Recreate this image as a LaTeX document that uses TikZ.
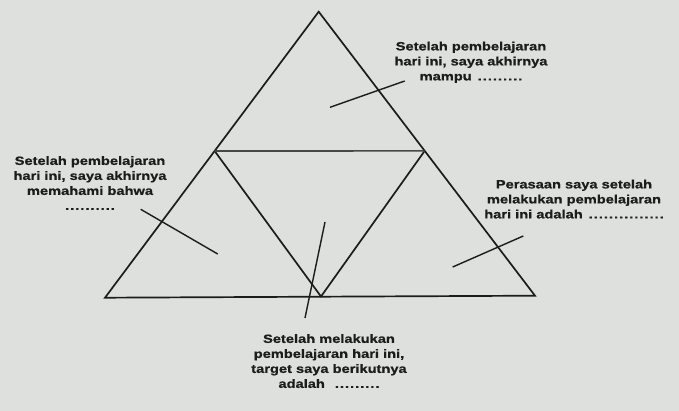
\documentclass[tikz,border=0pt]{standalone}
\usepackage{fontspec}
\setmainfont{Liberation Sans}[FakeStretch=1.22,BoldFeatures={FakeBold=0.8}]
\usetikzlibrary{calc}
\definecolor{bgc}{RGB}{221,224,221}
\definecolor{ink}{RGB}{28,28,28}
\definecolor{midc}{RGB}{70,72,72}
\newcommand\dt{.\kern1pt}
\begin{document}
\begin{tikzpicture}[x=1pt,y=-1pt,
  edge/.style={draw=ink,line width=1.7pt,line join=miter},
  midline/.style={draw=midc,line width=1.7pt},
  leader/.style={draw=ink,line width=1.4pt},
  lbl/.style={text=ink,inner sep=0pt,align=center,anchor=north,font=\bfseries\fontsize{12}{15}\selectfont}]
\fill[bgc] (0,0) rectangle (679,411);
\useasboundingbox (0,0) rectangle (679,411);
% vertices
\coordinate (A) at (318.7,11.7);
\coordinate (BL) at (105,297.7);
\coordinate (BR) at (535,295.7);
\coordinate (ML) at ($(A)!0.487!(BL)$);
\coordinate (MR) at ($(A)!0.49!(BR)$);
\coordinate (BM) at (321,296.5);
% triangles
\draw[edge] (A) -- (BL) -- (BR) -- cycle;
\draw[edge] (ML) -- (BM) -- (MR);
\draw[midline] (ML) -- (MR);
% labels
\node[lbl] (tTop) at (471,41.5) {Setelah pembelajaran\\hari ini, saya akhirnya\\mampu\hspace{6pt}\dt\dt\dt\dt\dt\dt\dt\dt.};
\node[lbl] (tLeft) at (90,156) {Setelah pembelajaran\\hari ini, saya akhirnya\\memahami bahwa\\\dt\dt\dt\dt\dt\dt\dt\dt\dt.};
\node[lbl] (tRight) at (574,179.5) {Perasaan saya setelah\\melakukan pembelajaran\\hari ini adalah\hspace{6pt}\dt\dt\dt\dt\dt\dt\dt\dt\dt\dt\dt\dt\dt\dt.};
\node[lbl] (tBot) at (329,334) {Setelah melakukan\\pembelajaran hari ini,\\target saya berikutnya\\adalah\hspace{10pt}\dt\dt\dt\dt\dt\dt\dt\dt.};
% leader lines
\coordinate (lt1) at (404.7,81);
\coordinate (lt2) at (330,107.3);
\coordinate (ll1) at (140.7,209.3);
\coordinate (ll2) at (217.7,254);
\coordinate (lr1) at (523.3,236);
\coordinate (lr2) at (452.7,267);
\coordinate (lb1) at (325,222);
\coordinate (lb2) at (305,318);
\draw[leader] (lt1) -- (lt2);
\draw[leader] (ll1) -- (ll2);
\draw[leader] (lr1) -- (lr2);
\draw[leader] (lb1) -- (lb2);
\end{tikzpicture}
\end{document}
